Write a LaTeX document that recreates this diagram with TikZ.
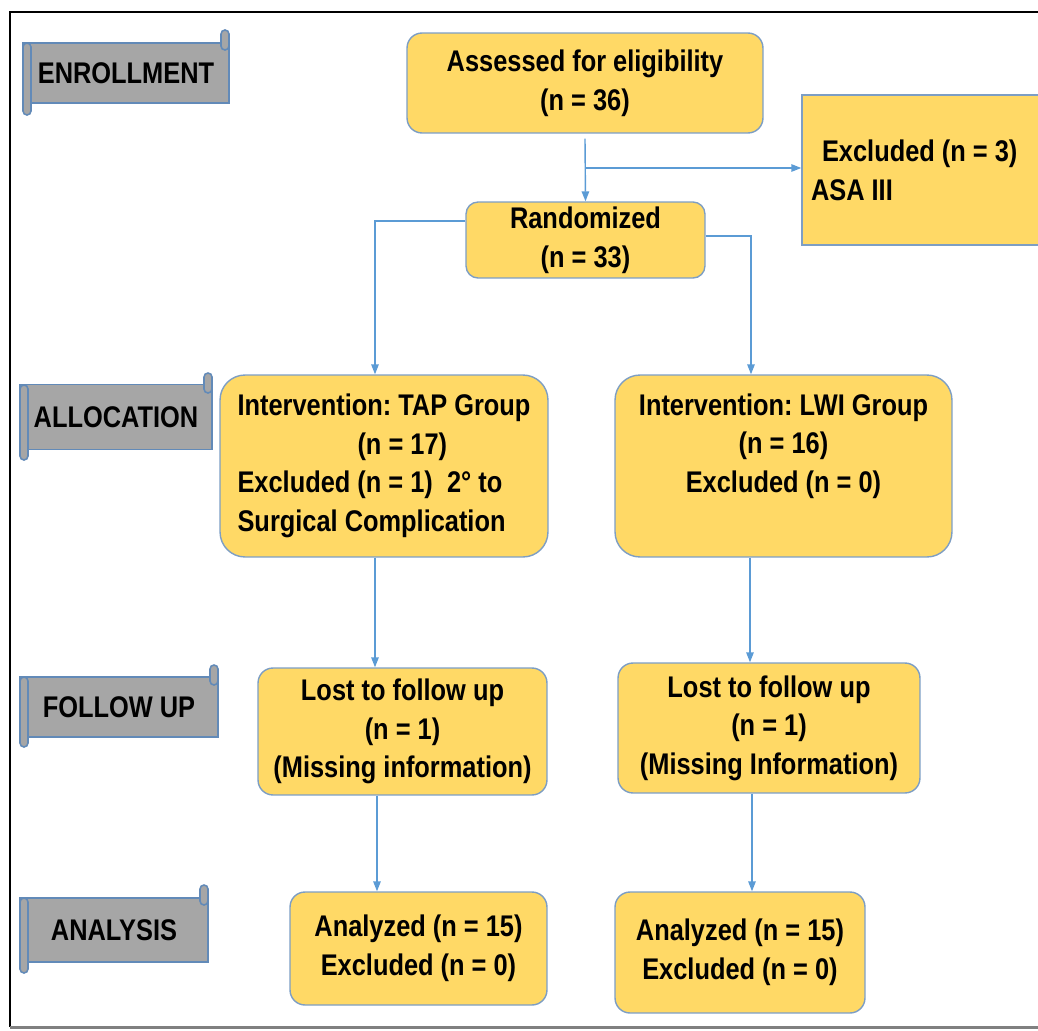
\documentclass[tikz,border=0pt]{standalone}
\usepackage{fontspec}
\newfontfamily\flowfont[FakeStretch=0.85]{Liberation Sans}
\usetikzlibrary{arrows.meta}
\definecolor{boxfill}{RGB}{255,217,102}
\definecolor{boxline}{RGB}{125,158,196}
\definecolor{bannerfill}{RGB}{166,166,166}
\definecolor{bannerline}{RGB}{98,138,184}
\definecolor{flowline}{RGB}{91,155,213}
\frenchspacing
\tikzset{
  ybox/.style={draw=boxline, fill=boxfill, line width=0.8pt, rounded corners=0.3cm, align=center, inner sep=0pt, font=\flowfont\bfseries\fontsize{17}{22}\selectfont},
  ytext/.style={align=center, inner sep=0pt, font=\flowfont\bfseries\fontsize{17}{22}\selectfont},
  banner/.style={draw=bannerline, fill=bannerfill, line width=0.9pt, inner sep=0pt, font=\flowfont\bfseries\fontsize{17}{22}\selectfont},
  tab/.style={draw=bannerline, fill=bannerfill, line width=0.9pt, rounded corners=0.08cm},
  flow/.style={draw=flowline, line width=0.8pt, -{Triangle[length=0.2cm,width=0.15cm]}}
}
\begin{document}
\begin{tikzpicture}[x=0.02cm,y=-0.02cm]
\useasboundingbox (0,0) rectangle (1038,1031);
% frame
\draw[line width=0.06cm] (1040,12) -- (10,12) -- (10,1027);
\draw[gray, line width=0.06cm] (10,1027) -- (1040,1027);

% stage banners
\node[banner, minimum width=4.12cm, minimum height=1.2cm] (enroll) at (126,73) {ENROLLMENT};
\draw[tab] (23,43) rectangle (31,115);
\draw[tab] (221,30) rectangle (229,50);
\node[banner, minimum width=3.84cm, minimum height=1.3cm] (alloc) at (116,417) {ALLOCATION};
\draw[tab] (20,385) rectangle (28,460);
\draw[tab] (204,373) rectangle (212,393);
\node[banner, minimum width=3.96cm, minimum height=1.2cm] (follow) at (119,707) {FOLLOW UP};
\draw[tab] (20,677) rectangle (28,747);
\draw[tab] (210,665) rectangle (218,685);
\node[banner, minimum width=3.76cm, minimum height=1.28cm] (analysis) at (114,930) {ANALYSIS};
\draw[tab] (20,898) rectangle (28,973);
\draw[tab] (200,885) rectangle (208,905);

% flow boxes
\node[ybox, minimum width=7.12cm, minimum height=2.0cm] (assess) at (585,83) {Assessed for eligibility\\(n = 36)};
\node[ybox, rounded corners=0pt, align=flush left, text width=4.5cm, inner xsep=0.18cm, minimum height=3.0cm] (excl) at (923.5,170) {\hspace*{0.22cm}Excluded (n = 3)\\ASA III};
\node[ybox, rounded corners=0.24cm, minimum width=4.78cm, minimum height=1.52cm] (rand) at (585.5,240) {Randomized\\(n = 33)};
\node[ybox, rounded corners=0.5cm, align=left, minimum width=6.56cm, minimum height=3.64cm] (tap) at (384,466) {Intervention: TAP Group\\\hspace*{2.4cm}(n = 17)\\Excluded (n = 1)\ \ 2° to\\Surgical Complication};
\node[ybox, rounded corners=0.5cm, minimum width=6.74cm, minimum height=3.64cm] (lwi) at (783.5,466) {};
\node[ytext] (lwitext) at (783.5,446) {Intervention: LWI Group\\(n = 16)\\Excluded (n = 0)};
\node[ybox, minimum width=5.78cm, minimum height=2.54cm] (losttap) at (402.5,731.5) {Lost to follow up\\(n = 1)\\(Missing information)};
\node[ybox, minimum width=6.04cm, minimum height=2.6cm] (lostlwi) at (769,728) {Lost to follow up\\(n = 1)\\(Missing Information)};
\node[ybox, minimum width=5.14cm, minimum height=2.26cm] (anatap) at (418.5,948.5) {Analyzed (n = 15)\\Excluded (n = 0)};
\node[ybox, minimum width=5.0cm, minimum height=2.42cm] (analwi) at (740,952.5) {Analyzed (n = 15)\\Excluded (n = 0)};

% connectors
\coordinate (split) at (585.5,168);
\draw[flow] ([yshift=-0.1cm]assess.south) -- (rand.north);
\draw[flow] (split) -- (split -| excl.west);
\draw[flow] (rand.171) -| ([xshift=-0.18cm]tap.north);
\draw[flow] (rand.2) -| ([xshift=-0.65cm]lwi.north);
\draw[flow] ([xshift=-0.18cm]tap.south) -- ([xshift=-0.18cm]tap.south |- losttap.north);
\draw[flow] ([xshift=-0.67cm]lwi.south) -- ([xshift=-0.67cm]lwi.south |- lostlwi.north);
\draw[flow] ([xshift=-0.51cm]losttap.south) -- ([xshift=-0.51cm]losttap.south |- anatap.north);
\draw[flow] ([xshift=-0.34cm]lostlwi.south) -- ([xshift=-0.34cm]lostlwi.south |- analwi.north);
\end{tikzpicture}
\end{document}
